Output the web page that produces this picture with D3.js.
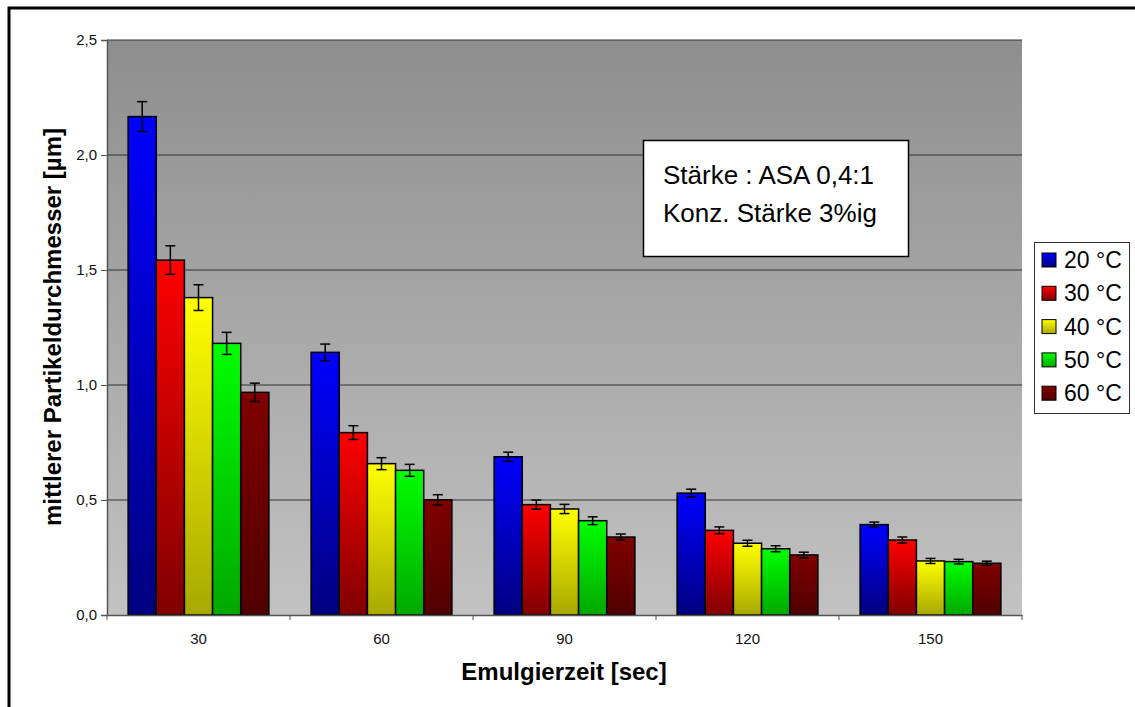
<!DOCTYPE html>
<html>
<head>
<meta charset="utf-8">
<script src="https://cdn.jsdelivr.net/npm/d3@7"></script>
<style>
  body { margin: 0; background: #fff; }
  text { font-family: Arial, "Liberation Sans", sans-serif; }
</style>
</head>
<body>
<div id="chart"></div>
<script>
// categories / series
var categories = ["30", "60", "90", "120", "150"];
var seriesNames = ["20 °C", "30 °C", "40 °C", "50 °C", "60 °C"];

// mean particle diameter per temperature (one value per emulsifying time)
var t20 = [2.167, 1.142, 0.688, 0.530, 0.393];
var t30 = [1.543, 0.793, 0.480, 0.368, 0.326];
var t40 = [1.380, 0.658, 0.461, 0.312, 0.235];
var t50 = [1.181, 0.629, 0.410, 0.288, 0.232];
var t60 = [0.968, 0.501, 0.339, 0.261, 0.225];

// error bar half-widths
var e20 = [0.065, 0.036, 0.020, 0.017, 0.011];
var e30 = [0.062, 0.030, 0.020, 0.015, 0.013];
var e40 = [0.056, 0.026, 0.020, 0.013, 0.011];
var e50 = [0.048, 0.026, 0.017, 0.013, 0.010];
var e60 = [0.040, 0.022, 0.013, 0.012, 0.009];

var yTicks = [0, 0.5, 1.0, 1.5, 2.0, 2.5];

var allVals = [t20, t30, t40, t50, t60];
var allErrs = [e20, e30, e40, e50, e60];

// bar colours, top -> bottom of gradient
var topColors = ["#0000ff", "#ff0000", "#ffff00", "#00ff00", "#800000"];
var botColors = ["#000080", "#800000", "#a8a800", "#00a800", "#500000"];

var width = 1135, height = 707;
var plot = { left: 107, right: 1022, top: 40, bottom: 615 };

var svg = d3.select("#chart")
  .append("svg")
    .attr("width", width)
    .attr("height", height);

var defs = svg.append("defs");

// background gradient of plot area
var bg = defs.append("linearGradient")
  .attr("id", "bg").attr("x1", 0).attr("y1", 0).attr("x2", 0).attr("y2", 1);
bg.append("stop").attr("offset", "0%").attr("stop-color", "#8e8e8e");
bg.append("stop").attr("offset", "100%").attr("stop-color", "#c2c2c2");

seriesNames.forEach(function(s, i) {
  var g = defs.append("linearGradient")
    .attr("id", "grad" + i).attr("x1", 0).attr("y1", 0).attr("x2", 0).attr("y2", 1);
  g.append("stop").attr("offset", "0%").attr("stop-color", topColors[i]);
  g.append("stop").attr("offset", "100%").attr("stop-color", botColors[i]);
});

// outer frame
svg.append("rect")
  .attr("x", 9).attr("y", 8)
  .attr("width", width + 10).attr("height", height + 10)
  .attr("fill", "none")
  .attr("stroke", "#000")
  .attr("stroke-width", 3);

// scales
var x = d3.scaleBand()
  .domain(categories)
  .range([plot.left, plot.right])
  .padding(0);

var x1 = d3.scaleBand()
  .domain(seriesNames)
  .range([0, x.bandwidth()])
  .paddingInner(0)
  .paddingOuter(0.75);

var y = d3.scaleLinear()
  .domain([0, 2.5])
  .range([plot.bottom, plot.top]);

// plot background
svg.append("rect")
  .attr("x", plot.left).attr("y", plot.top)
  .attr("width", plot.right - plot.left)
  .attr("height", plot.bottom - plot.top)
  .attr("fill", "url(#bg)");

// gridlines
svg.append("g")
  .selectAll("line")
  .data(yTicks.slice(1))
  .enter().append("line")
    .attr("x1", plot.left).attr("x2", plot.right)
    .attr("y1", function(d) { return y(d); })
    .attr("y2", function(d) { return y(d); })
    .attr("stroke", "#333")
    .attr("stroke-width", 1);

// bars
var rows = [];
categories.forEach(function(c, ci) {
  seriesNames.forEach(function(s, si) {
    rows.push({ cat: c, ser: s, si: si, v: allVals[si][ci], e: allErrs[si][ci] });
  });
});

svg.append("g")
  .selectAll("rect")
  .data(rows)
  .enter().append("rect")
    .attr("x", function(d) { return x(d.cat) + x1(d.ser); })
    .attr("y", function(d) { return y(d.v); })
    .attr("width", x1.bandwidth())
    .attr("height", function(d) { return y(0) - y(d.v); })
    .attr("fill", function(d) { return "url(#grad" + d.si + ")"; })
    .attr("stroke", "#000")
    .attr("stroke-width", 1.5);

// error bars
var eb = svg.append("g")
  .attr("stroke", "#000")
  .attr("stroke-width", 1.5)
  .selectAll("g")
  .data(rows)
  .enter().append("g")
    .attr("transform", function(d) {
      return "translate(" + (x(d.cat) + x1(d.ser) + x1.bandwidth() / 2) + ",0)";
    });
eb.append("line")
  .attr("y1", function(d) { return y(d.v + d.e); })
  .attr("y2", function(d) { return y(d.v - d.e); });
eb.append("line")
  .attr("x1", -5).attr("x2", 5)
  .attr("y1", function(d) { return y(d.v + d.e); })
  .attr("y2", function(d) { return y(d.v + d.e); });
eb.append("line")
  .attr("x1", -5).attr("x2", 5)
  .attr("y1", function(d) { return y(d.v - d.e); })
  .attr("y2", function(d) { return y(d.v - d.e); });

// Y axis
var yAxis = svg.append("g")
  .attr("transform", "translate(" + plot.left + ",0)")
  .call(d3.axisLeft(y)
    .tickValues(yTicks)
    .tickSize(6)
    .tickFormat(function(d) { return d3.format(".1f")(d).replace(".", ","); }));
yAxis.select(".domain").attr("stroke", "#555").attr("stroke-width", 1.5);
yAxis.selectAll(".tick line").attr("stroke", "#555");
yAxis.selectAll("text")
  .style("font-size", "15px")
  .attr("fill", "#111")
  .attr("x", -10);

// X axis
var xAxis = svg.append("g")
  .attr("transform", "translate(0," + plot.bottom + ")")
  .call(d3.axisBottom(x).tickSize(0).tickPadding(18));
xAxis.select(".domain").attr("stroke", "#555").attr("stroke-width", 1.5);
xAxis.selectAll("text")
  .style("font-size", "15px")
  .attr("fill", "#111");

// category boundary ticks
svg.append("g")
  .selectAll("line")
  .data(categories.concat(["end"]))
  .enter().append("line")
    .attr("x1", function(d, i) { return i < categories.length ? x(d) : x.range()[1]; })
    .attr("x2", function(d, i) { return i < categories.length ? x(d) : x.range()[1]; })
    .attr("y1", plot.bottom).attr("y2", plot.bottom + 5)
    .attr("stroke", "#555");

// axis titles
svg.append("text")
  .attr("x", 564).attr("y", 680)
  .attr("text-anchor", "middle")
  .style("font-size", "24px")
  .style("font-weight", "bold")
  .text("Emulgierzeit [sec]");

svg.append("text")
  .attr("transform", "translate(61,327) rotate(-90)")
  .attr("text-anchor", "middle")
  .style("font-size", "24px")
  .style("font-weight", "bold")
  .text("mittlerer Partikeldurchmesser [µm]");

// annotation box
svg.append("rect")
  .attr("x", 643.5).attr("y", 140.5)
  .attr("width", 265).attr("height", 116)
  .attr("fill", "#fff")
  .attr("stroke", "#000")
  .attr("stroke-width", 1.5);
svg.append("text").attr("x", 663).attr("y", 184)
  .style("font-size", "26px").text("Stärke : ASA 0,4:1");
svg.append("text").attr("x", 663).attr("y", 222)
  .style("font-size", "26px").text("Konz. Stärke 3%ig");

// legend
svg.append("rect")
  .attr("x", 1034.5).attr("y", 242.5)
  .attr("width", 95).attr("height", 171)
  .attr("fill", "#fff")
  .attr("stroke", "#333")
  .attr("stroke-width", 1);

seriesNames.forEach(function(s, i) {
  var cy = 260 + i * 33.3;
  svg.append("rect")
    .attr("x", 1042).attr("y", cy - 7)
    .attr("width", 14).attr("height", 14)
    .attr("fill", "url(#grad" + i + ")")
    .attr("stroke", "#000")
    .attr("stroke-width", 1);
  svg.append("text")
    .attr("x", 1064).attr("y", cy)
    .attr("dominant-baseline", "central")
    .style("font-size", "23px")
    .text(s);
});
</script>
</body>
</html>
